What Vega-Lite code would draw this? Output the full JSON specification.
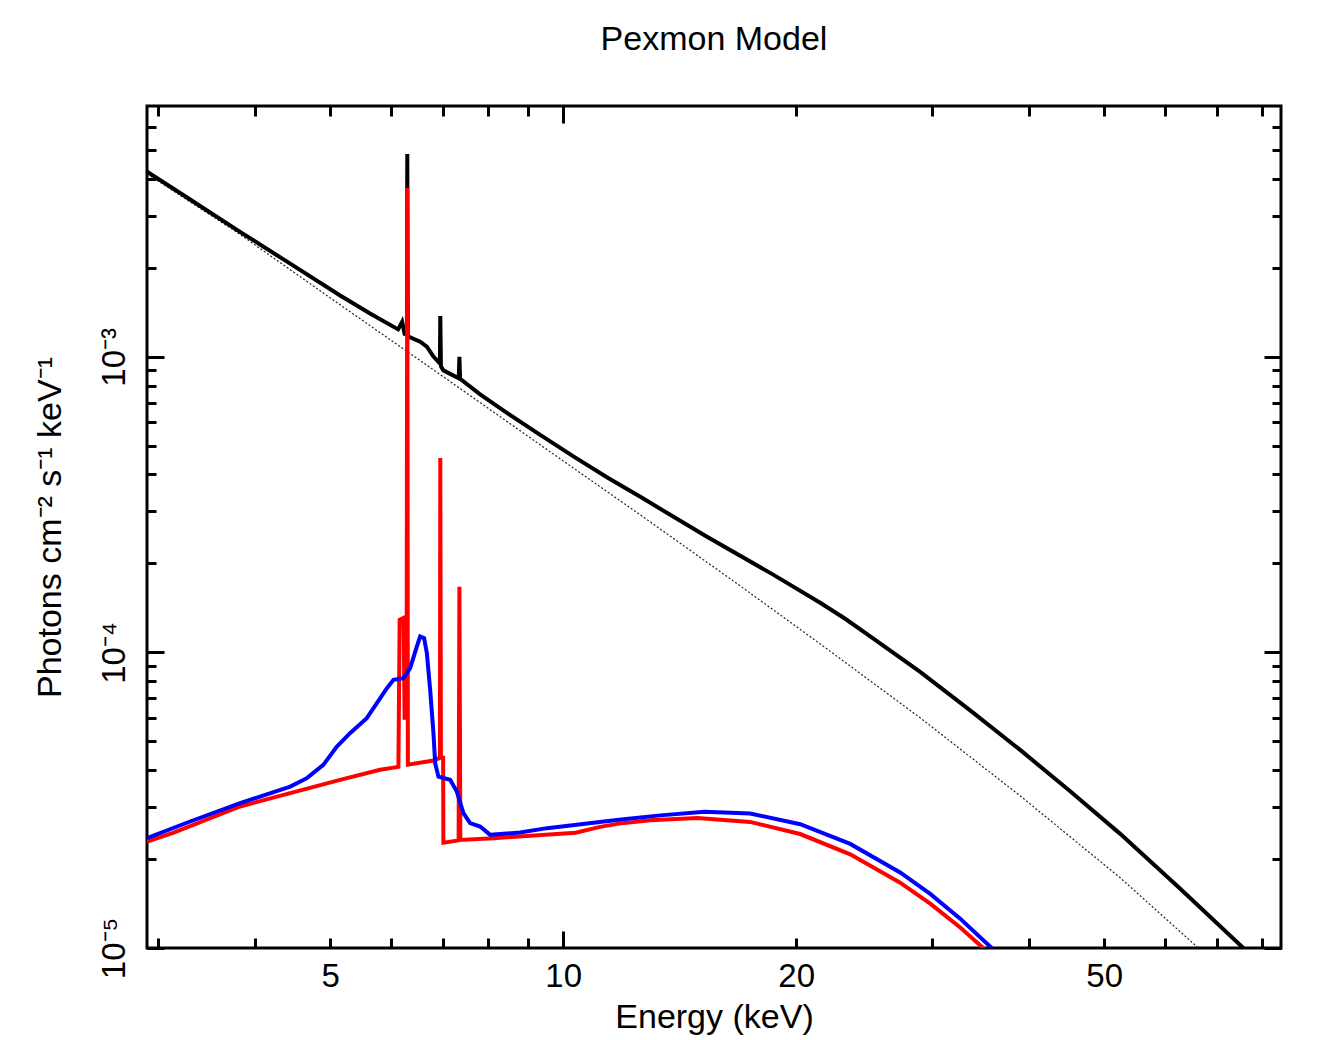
{
  "$schema": "https://vega.github.io/schema/vega-lite/v6.json",
  "width": 1134,
  "height": 842,
  "autosize": {"type": "none"},
  "padding": {"left": 147, "top": 106, "right": 58, "bottom": 92},
  "background": "white",
  "title": {"text": "Pexmon Model", "font": "Liberation Sans", "fontSize": 34, "fontWeight": "normal", "color": "black", "anchor": "middle", "baseline": "alphabetic", "offset": 21},
  "config": {
    "view": {"stroke": "black", "strokeWidth": 3},
    "axis": {"domain": false, "grid": false, "tickColor": "black", "tickWidth": 3, "labelFont": "Liberation Sans", "labelFontSize": 33, "labelColor": "black", "titleFont": "Liberation Sans", "titleFontSize": 34, "titleFontWeight": "normal", "titleColor": "black", "labelOverlap": false, "labelFlush": false, "labelBound": false}
  },
  "datasets": {
    "continuum": [
      {"E": 2.901, "F": 0.00416}, {"E": 3.825, "F": 0.002597}, {"E": 5.151, "F": 0.0015}, {"E": 6.799, "F": 0.000904},
      {"E": 9.34, "F": 0.000504}, {"E": 12.58, "F": 0.000292}, {"E": 16.93, "F": 0.000168}, {"E": 21.48, "F": 0.0001069},
      {"E": 28.92, "F": 0.0000601}, {"E": 38.94, "F": 0.00003272}, {"E": 52.44, "F": 0.00001728}, {"E": 65.88, "F": 0.0000101},
      {"E": 66.53, "F": 0.0000099}
    ],
    "total": [
      {"E": 2.901, "F": 0.004236}, {"E": 3.297, "F": 0.003407}, {"E": 3.825, "F": 0.002648}, {"E": 4.44, "F": 0.002067},
      {"E": 5.151, "F": 0.001614}, {"E": 5.631, "F": 0.001403}, {"E": 6.121, "F": 0.001239},
      {"E": 6.194, "F": 0.001313}, {"E": 6.24, "F": 0.001196}, {"E": 6.283, "F": 0.00119}, {"E": 6.29, "F": 0.00486},
      {"E": 6.3, "F": 0.00118}, {"E": 6.324, "F": 0.001168}, {"E": 6.535, "F": 0.001126}, {"E": 6.667, "F": 0.001083},
      {"E": 6.799, "F": 0.001002}, {"E": 6.901, "F": 0.000962}, {"E": 6.931, "F": 0.00095}, {"E": 6.939, "F": 0.001376},
      {"E": 6.952, "F": 0.00093}, {"E": 7.003, "F": 0.0009}, {"E": 7.33, "F": 0.000847}, {"E": 7.345, "F": 0.001},
      {"E": 7.36, "F": 0.000843}, {"E": 7.812, "F": 0.0007465}, {"E": 8.459, "F": 0.0006465}, {"E": 9.34, "F": 0.0005445},
      {"E": 10.31, "F": 0.0004607}, {"E": 11.39, "F": 0.0003913}, {"E": 12.58, "F": 0.0003361}, {"E": 15.34, "F": 0.0002461},
      {"E": 18.7, "F": 0.000183}, {"E": 21.48, "F": 0.0001472}, {"E": 23.14, "F": 0.00013}, {"E": 24.93, "F": 0.0001134},
      {"E": 28.92, "F": 0.000086}, {"E": 33.56, "F": 0.0000637}, {"E": 38.94, "F": 0.0000468}, {"E": 45.19, "F": 0.00003389},
      {"E": 52.44, "F": 0.00002433}, {"E": 62.69, "F": 0.00001586}, {"E": 75.32, "F": 0.0000101}, {"E": 76.04, "F": 0.00000986}
    ],
    "pexmon": [
      {"E": 2.901, "F": 0.00002293}, {"E": 3.134, "F": 0.00002452}, {"E": 3.825, "F": 0.00003011}, {"E": 4.44, "F": 0.00003342},
      {"E": 5.151, "F": 0.00003707}, {"E": 5.801, "F": 0.00004007}, {"E": 6.126, "F": 0.000041}, {"E": 6.149, "F": 0.0001289},
      {"E": 6.222, "F": 0.0001309}, {"E": 6.24, "F": 0.0000601}, {"E": 6.277, "F": 0.0000601}, {"E": 6.29, "F": 0.00373},
      {"E": 6.301, "F": 0.0000417}, {"E": 6.799, "F": 0.0000431}, {"E": 6.931, "F": 0.000044}, {"E": 6.939, "F": 0.000455},
      {"E": 6.952, "F": 0.000044}, {"E": 6.998, "F": 0.000044}, {"E": 7.003, "F": 0.0000227}, {"E": 7.328, "F": 0.00002313},
      {"E": 7.345, "F": 0.0001667}, {"E": 7.365, "F": 0.0000232}, {"E": 8.135, "F": 0.00002353}, {"E": 10.38, "F": 0.00002455},
      {"E": 11.16, "F": 0.0000257}, {"E": 11.8, "F": 0.00002635}, {"E": 12.96, "F": 0.00002704}, {"E": 14.9, "F": 0.00002751},
      {"E": 17.44, "F": 0.00002671}, {"E": 20.24, "F": 0.0000243}, {"E": 23.49, "F": 0.00002075}, {"E": 27.25, "F": 0.00001663},
      {"E": 29.8, "F": 0.00001412}, {"E": 32.58, "F": 0.00001173}, {"E": 34.91, "F": 0.00000999}, {"E": 35.63, "F": 0.0000095}
    ],
    "smoothed": [
      {"E": 2.901, "F": 0.00002353}, {"E": 3.297, "F": 0.00002679}, {"E": 3.825, "F": 0.00003091}, {"E": 4.44, "F": 0.00003518},
      {"E": 4.666, "F": 0.00003755}, {"E": 4.9, "F": 0.00004165}, {"E": 5.101, "F": 0.000048}, {"E": 5.305, "F": 0.0000533},
      {"E": 5.576, "F": 0.0000599}, {"E": 5.92, "F": 0.0000757}, {"E": 6.037, "F": 0.0000808}, {"E": 6.219, "F": 0.0000818},
      {"E": 6.344, "F": 0.0000885}, {"E": 6.471, "F": 0.0001047}, {"E": 6.535, "F": 0.0001132}, {"E": 6.613, "F": 0.0001118},
      {"E": 6.667, "F": 0.0000995}, {"E": 6.733, "F": 0.0000747}, {"E": 6.799, "F": 0.0000533}, {"E": 6.834, "F": 0.0000422},
      {"E": 6.901, "F": 0.000038}, {"E": 7.145, "F": 0.00003707}, {"E": 7.289, "F": 0.00003383}, {"E": 7.433, "F": 0.00002859},
      {"E": 7.582, "F": 0.00002646}, {"E": 7.812, "F": 0.00002576}, {"E": 8.049, "F": 0.00002415}, {"E": 8.8, "F": 0.00002459},
      {"E": 9.535, "F": 0.00002544}, {"E": 11.8, "F": 0.00002715}, {"E": 13.35, "F": 0.0000281}, {"E": 15.23, "F": 0.0000289},
      {"E": 17.44, "F": 0.00002851}, {"E": 20.24, "F": 0.00002623}, {"E": 23.49, "F": 0.0000225}, {"E": 27.25, "F": 0.00001801},
      {"E": 29.8, "F": 0.00001524}, {"E": 32.58, "F": 0.00001257}, {"E": 35.63, "F": 0.0000101}, {"E": 36.15, "F": 0.00000974}
    ]
  },
  "layer": [
    {
      "data": {"name": "continuum"},
      "mark": {"type": "line", "clip": true, "color": "#222222", "strokeWidth": 1.2, "strokeDash": [2, 2]},
      "encoding": {
        "x": {"field": "E", "type": "quantitative", "scale": {"type": "log", "domain": [2.9, 84.6]},
          "axis": {"orient": "bottom", "values": [3, 4, 5, 6, 7, 8, 9, 10, 20, 30, 40, 50, 60, 70, 80], "tickSize": -10, "labelPadding": 22,
            "labelExpr": "indexof([5, 10, 20, 50], datum.value) >= 0 ? format(datum.value, 'd') : ''", "title": "Energy (keV)", "titlePadding": 7}},
        "y": {"field": "F", "type": "quantitative", "scale": {"type": "log", "domain": [0.00001, 0.00706]},
          "axis": {"orient": "left", "values": [0.00001, 0.00002, 0.00003, 0.00004, 0.00005, 0.00006, 0.00007, 0.00008, 0.00009, 0.0001, 0.0002, 0.0003, 0.0004, 0.0005, 0.0006, 0.0007, 0.0008, 0.0009, 0.001, 0.002, 0.003, 0.004, 0.005, 0.006],
            "tickSize": -9, "labelPadding": 25, "labelAngle": -90,
            "labelExpr": "abs(datum.value - 0.001) < 1e-9 ? '10⁻³' : abs(datum.value - 0.0001) < 1e-10 ? '10⁻⁴' : abs(datum.value - 0.00001) < 1e-11 ? '10⁻⁵' : ''",
            "title": "Photons cm⁻² s⁻¹ keV⁻¹", "titlePadding": 31}}
      }
    },
    {
      "data": {"name": "total"},
      "mark": {"type": "line", "clip": true, "color": "black", "strokeWidth": 4},
      "encoding": {
        "x": {"field": "E", "type": "quantitative", "scale": {"type": "log", "domain": [2.9, 84.6]},
          "axis": {"orient": "bottom", "values": [10], "tickSize": -17, "labels": false, "title": null}},
        "y": {"field": "F", "type": "quantitative", "scale": {"type": "log", "domain": [0.00001, 0.00706]},
          "axis": {"orient": "left", "values": [0.00001, 0.0001, 0.001], "tickSize": -17, "labels": false, "title": null}}
      }
    },
    {
      "data": {"name": "pexmon"},
      "mark": {"type": "line", "clip": true, "color": "#ff0000", "strokeWidth": 4},
      "encoding": {
        "x": {"field": "E", "type": "quantitative", "scale": {"type": "log", "domain": [2.9, 84.6]},
          "axis": {"orient": "top", "values": [3, 4, 5, 6, 7, 8, 9, 10, 20, 30, 40, 50, 60, 70, 80], "tickSize": -10, "labels": false, "title": null}},
        "y": {"field": "F", "type": "quantitative", "scale": {"type": "log", "domain": [0.00001, 0.00706]},
          "axis": {"orient": "right", "values": [0.00001, 0.00002, 0.00003, 0.00004, 0.00005, 0.00006, 0.00007, 0.00008, 0.00009, 0.0001, 0.0002, 0.0003, 0.0004, 0.0005, 0.0006, 0.0007, 0.0008, 0.0009, 0.001, 0.002, 0.003, 0.004, 0.005, 0.006], "tickSize": -9, "labels": false, "title": null}}
      }
    },
    {
      "data": {"name": "smoothed"},
      "mark": {"type": "line", "clip": true, "color": "#0000ff", "strokeWidth": 4},
      "encoding": {
        "x": {"field": "E", "type": "quantitative", "scale": {"type": "log", "domain": [2.9, 84.6]},
          "axis": {"orient": "top", "values": [10], "tickSize": -17, "labels": false, "title": null}},
        "y": {"field": "F", "type": "quantitative", "scale": {"type": "log", "domain": [0.00001, 0.00706]},
          "axis": {"orient": "right", "values": [0.00001, 0.0001, 0.001], "tickSize": -17, "labels": false, "title": null}}
      }
    }
  ],
  "resolve": {"axis": {"x": "independent", "y": "independent"}}
}
